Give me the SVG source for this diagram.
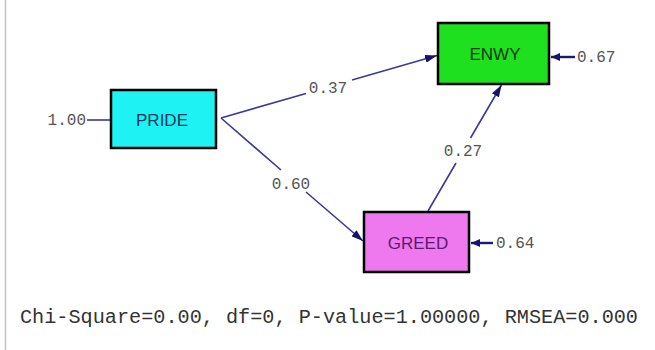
<svg xmlns="http://www.w3.org/2000/svg" width="655" height="350" viewBox="0 0 655 350">
  <style>
    .box { stroke: #000; stroke-width: 2.5; }
    .name { font-family: "Liberation Sans", Arial, sans-serif; font-size: 17px; text-anchor: middle; }
    .num { font-family: "Liberation Mono", "Courier New", monospace; font-size: 16px; fill: #555; }
    .edge { fill: none; stroke: #3a3a9a; stroke-width: 1.6; }
    .err { fill: none; stroke: #1a1a78; stroke-width: 2.4; }
    .foot { font-family: "Liberation Mono", "Courier New", monospace; font-size: 20px; fill: #333; }
  </style>
  <defs>
    <marker id="arr" viewBox="0 0 12 8" refX="12" refY="4" markerWidth="12" markerHeight="8" markerUnits="userSpaceOnUse" orient="auto">
      <path d="M0,0 L12,4 L0,8 Z" fill="#14146e"/>
    </marker>
    <marker id="arrs" viewBox="0 0 9 8" refX="9" refY="4" markerWidth="9" markerHeight="8" markerUnits="userSpaceOnUse" orient="auto">
      <path d="M0,0 L9,4 L0,8 Z" fill="#14146e"/>
    </marker>
  </defs>
  <rect width="655" height="350" fill="#fff"/>
  <line x1="5.5" y1="0" x2="5.5" y2="350" stroke="#c4c4c4" stroke-width="1.5"/>

  <g id="connectors">
    <path id="e-pride-enwy" class="edge" d="M221,118 L306,93.4 M352,80.1 L437,55.5" marker-end="url(#arr)"/>
    <path id="e-pride-greed" class="edge" d="M221,118 L281,170 M306,192 L363,241" marker-end="url(#arr)"/>
    <path id="e-greed-enwy" class="edge" d="M428,211 L456,163 M470.5,138 L501.5,85" marker-end="url(#arr)"/>
    <path id="err-enwy" class="err" d="M575,57 L551,57" marker-end="url(#arrs)"/>
    <path id="err-greed" class="err" d="M493,243 L471,243" marker-end="url(#arrs)"/>
    <path id="var-pride" class="edge" d="M87,120 L110,120"/>
    <text class="num" x="328" y="92.5" text-anchor="middle">0.37</text>
    <text class="num" x="291" y="189" text-anchor="middle">0.60</text>
    <text class="num" x="463" y="156" text-anchor="middle">0.27</text>
    <text class="num" x="577" y="62">0.67</text>
    <text class="num" x="496" y="248">0.64</text>
    <text class="num" x="86" y="125" text-anchor="end">1.00</text>
  </g>

  <g id="PRIDE">
    <rect class="box" x="111" y="90" width="105" height="58" fill="#1ef2f2"/>
    <text class="name" x="162" y="126" fill="#0a3a62">PRIDE</text>
  </g>
  <g id="ENWY">
    <rect class="box" x="438" y="23" width="111" height="61" fill="#1ee01e"/>
    <text class="name" x="495" y="60" fill="#0a3a0a">ENWY</text>
  </g>
  <g id="GREED">
    <rect class="box" x="364" y="212" width="105" height="60" fill="#ee78ee"/>
    <text class="name" x="418" y="249" fill="#5a1a72">GREED</text>
  </g>

  <text class="foot" x="20" y="323" textLength="618" lengthAdjust="spacingAndGlyphs">Chi-Square=0.00, df=0, P-value=1.00000, RMSEA=0.000</text>
</svg>
